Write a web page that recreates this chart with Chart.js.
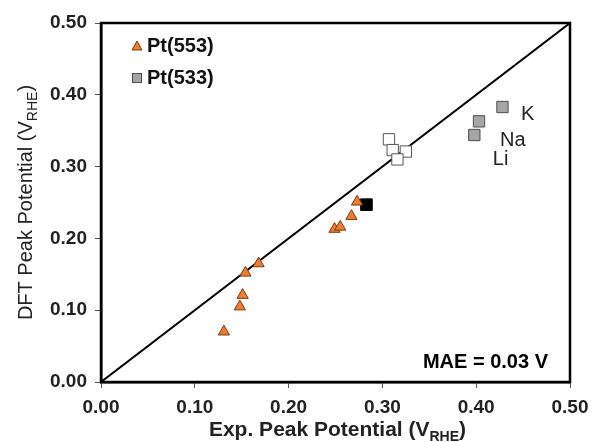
<!DOCTYPE html>
<html>
<head>
<meta charset="utf-8">
<script src="https://cdn.jsdelivr.net/npm/chart.js@4"></script>
<style>
html,body{margin:0;padding:0;background:#fff;}
#wrap{width:592px;height:442px;position:relative;}
</style>
</head>
<body>
<div id="wrap"><canvas id="c" width="592" height="442"></canvas></div>
<script>
// Data (Exp. peak potential x, DFT peak potential y), V_RHE
const pt553X = [0.131, 0.148, 0.151, 0.154, 0.168, 0.249, 0.255, 0.267, 0.273];
const pt553Y = [0.070, 0.105, 0.121, 0.152, 0.165, 0.213, 0.216, 0.231, 0.251];
const pt533X = [0.398, 0.403, 0.428];
const pt533Y = [0.344, 0.363, 0.383];
const pt533Cations = ['Li', 'Na', 'K'];
const blackX = [0.283];
const blackY = [0.247];
const whiteX = [0.307, 0.311, 0.325, 0.316];
const whiteY = [0.338, 0.323, 0.321, 0.310];
const parityLine = [0, 0.5];
const tickValues = [0, 0.1, 0.2, 0.3, 0.4, 0.5];
const labelPositions = [[0.426, 0.310], [0.439, 0.336], [0.455, 0.373]]; // Li, Na, K
const maeText = 'MAE = 0.03 V';
const xTitle = ['Exp. Peak Potential (V', 'RHE', ')'];
const yTitle = ['DFT Peak Potential (V', 'RHE', ')'];
const legendNames = ['Pt(553)', 'Pt(533)'];

const toPts = (xs, ys) => xs.map((x, i) => ({x: x, y: ys[i]}));
const FONT = '"Liberation Sans", Arial, sans-serif';
const ORANGE = '#ED7D31', ORANGE_B = '#7a3a10';
const GRAY = '#A5A5A5', GRAY_B = '#4d4d4d';

function drawTitle(ctx, parts, size, weight) {
  const big = weight + ' ' + size + 'px ' + FONT;
  const small = weight + ' ' + Math.round(size * 0.68) + 'px ' + FONT;
  ctx.font = big;
  const w1 = ctx.measureText(parts[0]).width;
  ctx.font = small;
  const w2 = ctx.measureText(parts[1]).width;
  ctx.font = big;
  const w3 = ctx.measureText(parts[2]).width;
  let x = -(w1 + w2 + w3) / 2;
  ctx.textAlign = 'left';
  ctx.textBaseline = 'alphabetic';
  ctx.fillText(parts[0], x, 0); x += w1;
  ctx.font = small;
  ctx.fillText(parts[1], x, 5); x += w2;
  ctx.font = big;
  ctx.fillText(parts[2], x, 0);
}

const extras = {
  id: 'extras',
  afterDraw(chart) {
    const ctx = chart.ctx, a = chart.chartArea;
    const xs = chart.scales.x, ys = chart.scales.y;
    ctx.save();
    // frame
    ctx.strokeStyle = '#000';
    ctx.lineWidth = 2.5;
    ctx.strokeRect(a.left, a.top, a.right - a.left, a.bottom - a.top);
    // cation labels
    ctx.fillStyle = '#222';
    ctx.font = '20px ' + FONT;
    ctx.textAlign = 'center';
    ctx.textBaseline = 'middle';
    pt533Cations.forEach((t, i) => {
      ctx.fillText(t, xs.getPixelForValue(labelPositions[i][0]), ys.getPixelForValue(labelPositions[i][1]));
    });
    // MAE
    ctx.fillStyle = '#000';
    ctx.font = 'bold 20px ' + FONT;
    ctx.textAlign = 'right';
    ctx.fillText(maeText, a.right - 22, a.bottom - 20);
    // legend
    const lx = a.left + 36, ly1 = a.top + 23, ly2 = a.top + 55;
    ctx.beginPath();
    ctx.moveTo(lx, ly1 - 5);
    ctx.lineTo(lx + 5, ly1 + 4);
    ctx.lineTo(lx - 5, ly1 + 4);
    ctx.closePath();
    ctx.fillStyle = ORANGE; ctx.fill();
    ctx.lineWidth = 1; ctx.strokeStyle = ORANGE_B; ctx.stroke();
    ctx.fillStyle = GRAY; ctx.fillRect(lx - 4.5, ly2 - 4.5, 9, 9);
    ctx.strokeStyle = GRAY_B; ctx.strokeRect(lx - 4.5, ly2 - 4.5, 9, 9);
    ctx.fillStyle = '#111';
    ctx.font = 'bold 20px ' + FONT;
    ctx.textAlign = 'left';
    ctx.fillText(legendNames[0], lx + 10, ly1);
    ctx.fillText(legendNames[1], lx + 10, ly2);
    // axis titles
    ctx.fillStyle = '#222';
    ctx.save();
    ctx.translate((a.left + a.right) / 2 + 2, 436);
    drawTitle(ctx, xTitle, 21, 'bold');
    ctx.restore();
    ctx.save();
    ctx.translate(32, (a.top + a.bottom) / 2);
    ctx.rotate(-Math.PI / 2);
    drawTitle(ctx, yTitle, 20, 'normal');
    ctx.restore();
    ctx.restore();
  }
};

new Chart(document.getElementById('c'), {
  type: 'scatter',
  data: {
    datasets: [
      {label: 'parity', type: 'line', data: toPts(parityLine, parityLine),
       borderColor: '#000', borderWidth: 2, pointRadius: 0, order: 10, fill: false},
      {label: legendNames[0], data: toPts(pt553X, pt553Y), pointStyle: 'triangle',
       pointRadius: 6.5, backgroundColor: ORANGE, borderColor: ORANGE_B, borderWidth: 1, order: 1},
      {label: legendNames[1], data: toPts(pt533X, pt533Y), pointStyle: 'rect',
       pointRadius: 8, backgroundColor: GRAY, borderColor: GRAY_B, borderWidth: 1, order: 2},
      {label: 'black', data: toPts(blackX, blackY), pointStyle: 'rect',
       pointRadius: 8.2, backgroundColor: '#000', borderColor: '#000', borderWidth: 1, order: 3},
      {label: 'white', data: toPts(whiteX, whiteY), pointStyle: 'rect',
       pointRadius: 8, backgroundColor: '#fff', borderColor: '#555', borderWidth: 1, order: 4}
    ]
  },
  options: {
    responsive: false,
    animation: false,
    layout: {padding: {top: 23, right: 22, left: 0, bottom: 0}},
    plugins: {legend: {display: false}, tooltip: {enabled: false}},
    scales: {
      x: {
        type: 'linear', min: 0, max: 0.5,
        afterBuildTicks: s => { s.ticks = tickValues.map(v => ({value: v})); },
        afterFit: s => { s.height = 60; s.paddingLeft = 0; s.paddingRight = 0; },
        ticks: {color: '#222', font: {family: FONT, size: 19, weight: 'bold'}, padding: 8,
                callback: v => v.toFixed(2), maxRotation: 0},
        grid: {drawOnChartArea: false, drawTicks: true, tickLength: 6, color: '#555'},
        border: {color: '#000', width: 2.5}
      },
      y: {
        type: 'linear', min: 0, max: 0.5,
        afterBuildTicks: s => { s.ticks = tickValues.map(v => ({value: v})); },
        afterFit: s => { s.width = 101; s.paddingTop = 0; s.paddingBottom = 0; },
        ticks: {color: '#222', font: {family: FONT, size: 19, weight: 'bold'}, padding: 8,
                callback: v => v.toFixed(2)},
        grid: {drawOnChartArea: false, drawTicks: true, tickLength: 6, color: '#555'},
        border: {color: '#000', width: 2.5}
      }
    }
  },
  plugins: [extras]
});
</script>
</body>
</html>
